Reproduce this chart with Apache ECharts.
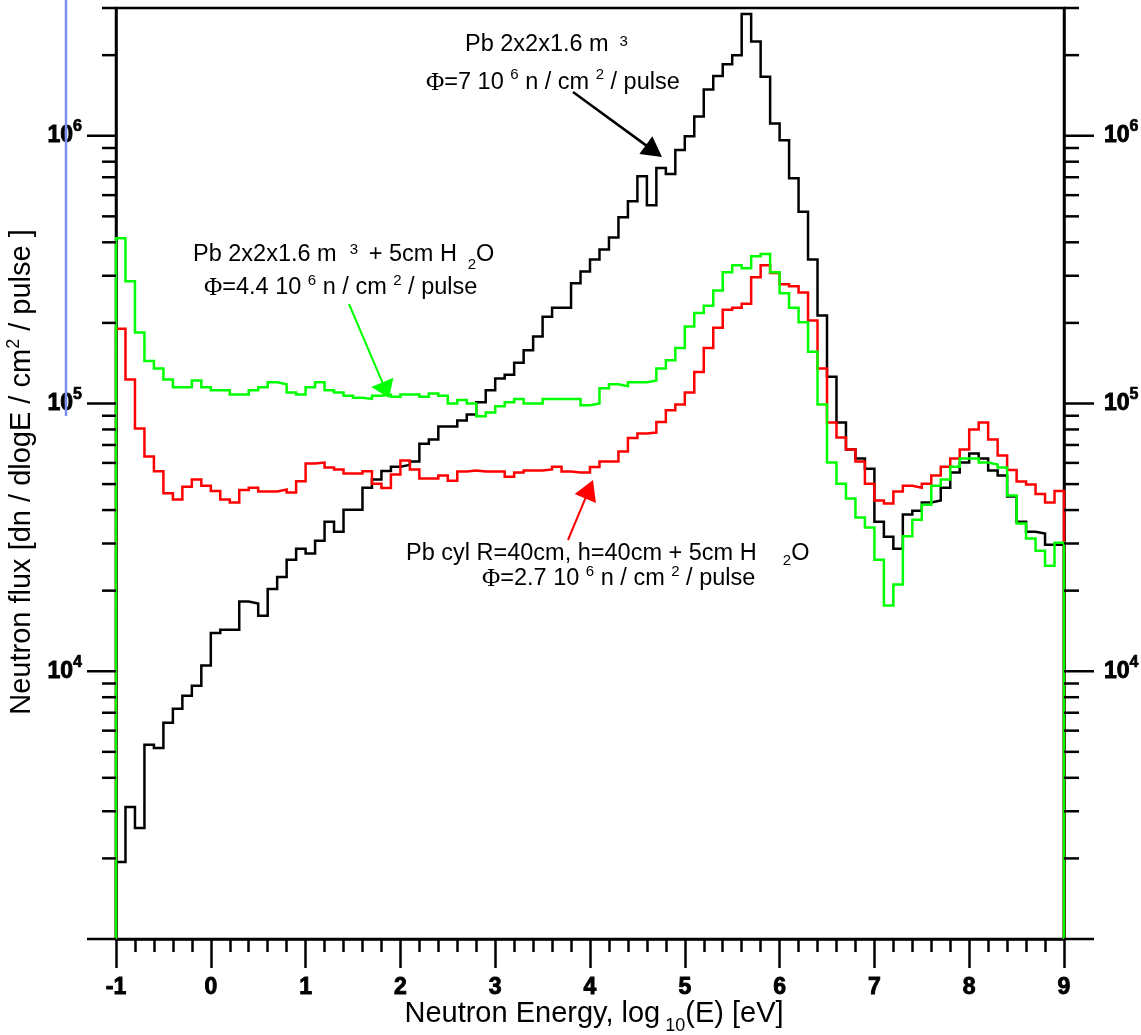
<!DOCTYPE html>
<html>
<head>
<meta charset="utf-8">
<script src="https://cdn.jsdelivr.net/npm/echarts@6/dist/echarts.min.js"></script>
<style>
  html, body { margin: 0; padding: 0; background: #fff; }
  #chart { width: 1141px; height: 1035px; }
</style>
</head>
<body>
<div id="chart"></div>
<script>
// Energy binning in log10(E / eV): 100 bins of width 0.1 from -1 to 9
const binStart = -1;
const binWidth = 0.1;
const xMin = -1, xMax = 9;
const yMin = 1e3, yMax = 3e6;

// Neutron flux per bin [dn / dlogE / cm2 / pulse]
// Pb block 2x2x1.6 m3
const fluxPbBlock = [
  1.94e3, 3.11e3, 2.60e3, 5.31e3, 5.17e3, 6.42e3, 7.24e3, 8.10e3, 8.83e3, 1.05e4,
  1.39e4, 1.43e4, 1.43e4, 1.82e4, 1.79e4, 1.61e4, 2.03e4, 2.25e4, 2.61e4, 2.87e4,
  2.75e4, 3.07e4, 3.62e4, 3.32e4, 4.01e4, 4.01e4, 4.85e4, 5.20e4, 5.60e4, 5.80e4,
  5.90e4, 6.07e4, 7.08e4, 7.33e4, 8.20e4, 8.20e4, 8.64e4, 9.10e4, 1.01e5, 1.12e5,
  1.24e5, 1.28e5, 1.42e5, 1.58e5, 1.78e5, 2.11e5, 2.28e5, 2.28e5, 2.81e5, 3.11e5,
  3.45e5, 3.76e5, 4.17e5, 4.96e5, 5.69e5, 7.06e5, 5.50e5, 7.57e5, 7.19e5, 8.84e5,
  9.96e5, 1.18e6, 1.49e6, 1.67e6, 1.85e6, 2.00e6, 2.85e6, 2.25e6, 1.66e6, 1.11e6,
  9.62e5, 6.94e5, 5.20e5, 3.45e5, 2.13e5, 1.26e5, 8.49e4, 6.73e4, 6.23e4, 5.71e4,
  3.62e4, 3.18e4, 2.87e4, 3.85e4, 3.98e4, 4.27e4, 4.34e4, 4.85e4, 5.52e4, 6.02e4,
  6.50e4, 6.23e4, 5.62e4, 5.38e4, 4.49e4, 3.62e4, 3.32e4, 3.27e4, 2.97e4, 2.97e4
];

// Pb cylinder R=40cm, h=40cm + 5cm H2O
const fluxPbCylWater = [
  1.90e5, 1.23e5, 8.07e4, 6.34e4, 5.58e4, 4.62e4, 4.38e4, 4.89e4, 5.20e4, 4.93e4,
  4.71e4, 4.38e4, 4.27e4, 4.75e4, 4.85e4, 4.69e4, 4.69e4, 4.77e4, 4.65e4, 5.12e4,
  5.97e4, 6.02e4, 5.77e4, 5.67e4, 5.48e4, 5.48e4, 5.58e4, 5.02e4, 4.83e4, 5.43e4,
  6.12e4, 5.67e4, 5.25e4, 5.25e4, 5.38e4, 5.15e4, 5.57e4, 5.62e4, 5.57e4, 5.57e4,
  5.57e4, 5.33e4, 5.52e4, 5.62e4, 5.62e4, 5.67e4, 5.81e4, 5.57e4, 5.52e4, 5.52e4,
  5.79e4, 6.07e4, 6.07e4, 6.62e4, 7.43e4, 7.72e4, 7.79e4, 8.52e4, 9.44e4, 9.91e4,
  1.10e5, 1.31e5, 1.61e5, 1.92e5, 2.24e5, 2.28e5, 2.36e5, 2.96e5, 3.28e5, 3.07e5,
  2.79e5, 2.74e5, 2.60e5, 2.04e5, 1.35e5, 8.49e4, 7.46e4, 6.73e4, 6.07e4, 5.02e4,
  4.34e4, 4.23e4, 4.69e4, 4.93e4, 4.85e4, 5.02e4, 5.38e4, 5.81e4, 6.23e4, 6.73e4,
  8.00e4, 8.49e4, 7.33e4, 6.39e4, 5.64e4, 5.11e4, 4.98e4, 4.59e4, 4.27e4, 4.71e4
];

// Pb block 2x2x1.6 m3 + 5cm H2O
const fluxPbBlockWater = [
  4.14e5, 2.86e5, 1.84e5, 1.44e5, 1.35e5, 1.23e5, 1.15e5, 1.15e5, 1.22e5, 1.15e5,
  1.12e5, 1.12e5, 1.08e5, 1.08e5, 1.12e5, 1.15e5, 1.20e5, 1.18e5, 1.10e5, 1.08e5,
  1.15e5, 1.20e5, 1.12e5, 1.10e5, 1.07e5, 1.05e5, 1.04e5, 1.07e5, 1.08e5, 1.06e5,
  1.08e5, 1.08e5, 1.06e5, 1.09e5, 1.07e5, 1.00e5, 1.03e5, 1.00e5, 8.97e4, 9.25e4,
  9.77e4, 1.01e5, 1.04e5, 1.00e5, 1.00e5, 1.04e5, 1.04e5, 1.04e5, 1.04e5, 9.86e4,
  1.00e5, 1.14e5, 1.18e5, 1.16e5, 1.20e5, 1.20e5, 1.22e5, 1.35e5, 1.45e5, 1.61e5,
  1.94e5, 2.18e5, 2.32e5, 2.64e5, 3.09e5, 3.28e5, 3.20e5, 3.55e5, 3.62e5, 3.09e5,
  2.58e5, 2.28e5, 2.01e5, 1.56e5, 9.91e4, 6.02e4, 5.02e4, 4.42e4, 3.75e4, 3.44e4,
  2.61e4, 1.76e4, 2.11e4, 3.19e4, 3.68e4, 4.19e4, 4.93e4, 5.20e4, 5.81e4, 6.23e4,
  6.23e4, 6.02e4, 5.92e4, 5.77e4, 4.53e4, 3.56e4, 3.13e4, 2.82e4, 2.48e4, 3.02e4
];

// Histogram outline: rises from the axis floor, steps through every bin, drops back
function stepOutline(values) {
  const pts = [[binStart, yMin]];
  values.forEach(function (v, i) {
    pts.push([binStart + i * binWidth, v], [binStart + (i + 1) * binWidth, v]);
  });
  pts.push([binStart + values.length * binWidth, yMin]);
  return pts;
}

// Log-axis tick marks: decades are major, 2..9 within each decade are minor
const yTickMarks = [];
for (let e = 3; e <= 6; e++) {
  for (let m = 1; m <= 9; m++) {
    const v = m * Math.pow(10, e);
    if (v <= yMax * 1.0001) yTickMarks.push([xMin, v, m === 1 ? 1 : 0]);
  }
}

function decadeLabel(v) {
  const e = Math.round(Math.log10(v));
  if (Math.abs(v / Math.pow(10, e) - 1) > 1e-6 || e <= 3) return '';
  return '{b|10}{s|' + e + '}';
}
const tickLabelRich = {
  b: { fontFamily: 'Liberation Sans', fontWeight: 'bold', fontSize: 23, lineHeight: 38, color: '#000',
       textBorderColor: '#000', textBorderWidth: 0.9 },
  s: { fontFamily: 'Liberation Sans', fontWeight: 'bold', fontSize: 16, verticalAlign: 'top', height: 20,
       lineHeight: 20, color: '#000', textBorderColor: '#000', textBorderWidth: 0.7 }
};

// Rich-text style set: main text centred, superscript raised by supShift, subscript lowered by subShift
function textStyles(size, smallSize, supShift, subShift) {
  const L = 48;
  return {
    n: { fontFamily: 'Liberation Sans', fontSize: size, lineHeight: L, color: '#000' },
    f: { fontFamily: 'Liberation Serif', fontSize: size + 1.5, lineHeight: L, color: '#000' },
    sup: { fontFamily: 'Liberation Sans', fontSize: smallSize, verticalAlign: 'top',
           height: L - 2 * supShift, lineHeight: L - 2 * supShift, color: '#000' },
    sub: { fontFamily: 'Liberation Sans', fontSize: smallSize, verticalAlign: 'bottom',
           height: L - 2 * subShift, lineHeight: L - 2 * subShift, color: '#000' }
  };
}

function richText(x, y, parts, styles, align) {
  return {
    type: 'text', z: 100, silent: true, x: x, y: y,
    style: {
      x: 0, y: 0, align: align || 'left', verticalAlign: 'middle',
      text: parts.map(function (p) { return '{' + p[0] + '|' + p[1] + '}'; }).join(''),
      rich: styles
    }
  };
}

function arrow(x1, y1, x2, y2, color, width, headLen, headHalf) {
  const dx = x2 - x1, dy = y2 - y1, len = Math.hypot(dx, dy);
  const ux = dx / len, uy = dy / len;
  const bx = x2 - ux * headLen, by = y2 - uy * headLen;
  return [
    { type: 'line', z: 100, silent: true, shape: { x1: x1, y1: y1, x2: bx + ux * 2, y2: by + uy * 2 },
      style: { stroke: color, lineWidth: width } },
    { type: 'polygon', z: 100, silent: true,
      shape: { points: [[x2, y2], [bx - uy * headHalf, by + ux * headHalf], [bx + uy * headHalf, by - ux * headHalf]] },
      style: { fill: color } }
  ];
}

const yTitle = richText(22, 472, [['n', 'Neutron flux [dn / dlogE / cm'], ['sup', '2'], ['n', ' / pulse ]']],
                        textStyles(29, 18, 8, 12), 'center');
yTitle.rotation = Math.PI / 2;

const graphics = [].concat(
  // thin marker line at the left margin
  [{ type: 'line', z: 100, silent: true, shape: { x1: 66, y1: 0, x2: 66, y2: 416 },
     style: { stroke: '#7b8ef0', lineWidth: 2.5 } }],

  // axis titles
  [richText(594, 1014, [['n', 'Neutron Energy, log'], ['sub', ' 10'], ['n', '(E) [eV]']],
            textStyles(29, 18, 8, 12), 'center')],
  [yTitle],

  // Pb block annotation
  [richText(465, 45, [['n', 'Pb 2x2x1.6 m '], ['sup', ' 3']], textStyles(23.5, 15, 3, 8))],
  [richText(426, 83, [['f', 'Φ'], ['n', '=7 10 '], ['sup', '6'], ['n', ' n / cm '], ['sup', '2'], ['n', ' / pulse']],
            textStyles(23.5, 15, 8, 8))],
  arrow(573, 92, 662, 157, '#000', 2.5, 20, 11),

  // Pb block + water annotation
  [richText(193, 255, [['n', 'Pb 2x2x1.6 m  '], ['sup', '3 '], ['n', ' + 5cm H '], ['sub', ' 2'], ['n', 'O']],
            textStyles(23.5, 15, 5, 10))],
  [richText(204, 288, [['f', 'Φ'], ['n', '=4.4 10 '], ['sup', '6'], ['n', ' n / cm '], ['sup', '2'], ['n', ' / pulse']],
            textStyles(23.5, 15, 7, 8))],
  arrow(349, 304, 389, 398, '#00ff00', 2, 17, 12),

  // Pb cylinder + water annotation
  [richText(406, 554, [['n', 'Pb cyl R=40cm, h=40cm + 5cm H    '], ['sub', '2'], ['n', 'O']],
            textStyles(23.5, 15, 7, 7))],
  [richText(482, 579, [['f', 'Φ'], ['n', '=2.7 10 '], ['sup', '6'], ['n', ' n / cm '], ['sup', '2'], ['n', ' / pulse']],
            textStyles(23.5, 15, 7.5, 8))],
  arrow(568, 540, 593, 480, '#ff0000', 2, 20, 11.5)
);

const axisLineStyle = { color: '#000', width: 2.5 };

function yAxisDef(position, margin) {
  return {
    type: 'log', logBase: 10, min: yMin, max: yMax, position: position,
    axisLine: { show: true, onZero: false, lineStyle: axisLineStyle },
    axisTick: { show: false },
    minorTick: { show: false },
    splitLine: { show: false },
    minorSplitLine: { show: false },
    axisLabel: { margin: margin, formatter: decadeLabel, rich: tickLabelRich,
                 showMinLabel: false, showMaxLabel: false }
  };
}

const option = {
  animation: false,
  backgroundColor: '#fff',
  grid: {
    left: 116, right: 77, top: 8, bottom: 96,
    containLabel: false, outerBoundsMode: 'none',
    show: true, borderColor: '#000', borderWidth: 2.5, backgroundColor: 'transparent'
  },
  xAxis: {
    type: 'value', min: xMin, max: xMax, interval: 1,
    axisLine: { onZero: false, lineStyle: axisLineStyle },
    axisTick: { inside: false, length: 29, lineStyle: axisLineStyle },
    minorTick: { show: true, splitNumber: 5, length: 13, lineStyle: axisLineStyle },
    splitLine: { show: false },
    minorSplitLine: { show: false },
    axisLabel: {
      margin: 37, color: '#000', fontFamily: 'Liberation Sans', fontWeight: 'bold', fontSize: 23,
      textBorderColor: '#000', textBorderWidth: 0.9,
      showMinLabel: true, showMaxLabel: true
    }
  },
  yAxis: [yAxisDef('left', 34), yAxisDef('right', 40)],
  series: [
    {
      name: 'Pb 2x2x1.6 m3', type: 'line', data: stepOutline(fluxPbBlock),
      showSymbol: false, symbol: 'none', clip: true, z: 2,
      lineStyle: { color: '#000', width: 2.5, join: 'miter' }
    },
    {
      name: 'Pb cyl R=40cm, h=40cm + 5cm H2O', type: 'line', data: stepOutline(fluxPbCylWater),
      showSymbol: false, symbol: 'none', clip: true, z: 3,
      lineStyle: { color: '#ff0000', width: 2.5, join: 'miter' }
    },
    {
      name: 'Pb 2x2x1.6 m3 + 5cm H2O', type: 'line', data: stepOutline(fluxPbBlockWater),
      showSymbol: false, symbol: 'none', clip: true, z: 4,
      lineStyle: { color: '#00ff00', width: 2.5, join: 'miter' }
    },
    {
      name: 'yTicks', type: 'custom', clip: false, silent: true, z: 5,
      data: yTickMarks, encode: { x: 0, y: 1 },
      renderItem: function (params, api) {
        const v = api.value(1);
        const major = api.value(2) === 1;
        const pl = api.coord([xMin, v]);
        const pr = api.coord([xMax, v]);
        const lenL = major ? 29 : 14, lenR = major ? 30 : 15;
        const st = { stroke: '#000', lineWidth: 2.5 };
        return {
          type: 'group',
          children: [
            { type: 'line', shape: { x1: pl[0] - lenL, y1: pl[1], x2: pl[0], y2: pl[1] }, style: st },
            { type: 'line', shape: { x1: pr[0], y1: pr[1], x2: pr[0] + lenR, y2: pr[1] }, style: st }
          ]
        };
      }
    }
  ],
  graphic: graphics
};

const chart = echarts.init(document.getElementById('chart'), null, { renderer: 'canvas' });
chart.setOption(option);
</script>
</body>
</html>
